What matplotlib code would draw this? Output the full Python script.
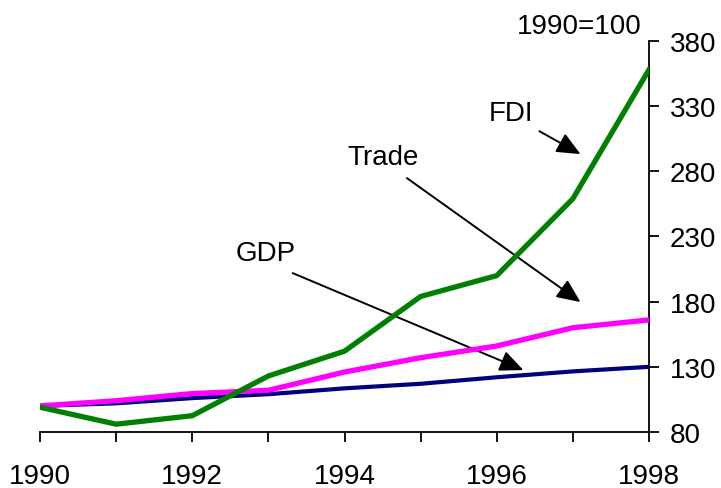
import matplotlib
matplotlib.use("Agg")
import matplotlib.pyplot as plt

# index values, 1990 = 100
years = [1990, 1991, 1992, 1993, 1994, 1995, 1996, 1997, 1998]
gdp = [100, 102, 106, 109, 113.5, 117, 122, 126.5, 130]
trade = [100, 104, 109.5, 112, 126, 137, 146, 160, 166]
fdi = [99, 86, 92.5, 123, 142, 184, 200, 259, 358]

x_ticks = years
x_labels = [str(y) if y % 2 == 0 else "" for y in years]
y_ticks = [80, 130, 180, 230, 280, 330, 380]

plt.rcParams["font.family"] = "Liberation Sans"
FS = 20

fig = plt.figure(figsize=(7.21, 4.89), dpi=100)
ax = fig.add_axes([40 / 721, 1 - 433 / 489, 609 / 721, 391 / 489])

ax.plot(years, gdp, color="#000080", lw=3.0, solid_joinstyle="miter", zorder=3)
ax.plot(years, trade, color="#ff00ff", lw=3.8, solid_joinstyle="miter", zorder=4)
ax.plot(years, fdi, color="#008000", lw=3.8, solid_joinstyle="miter", zorder=5)

ax.set_xlim(1990, 1998)
ax.set_ylim(80, 380)
ax.set_xticks(x_ticks)
ax.set_xticklabels(x_labels)
ax.set_yticks(y_ticks)

ax.yaxis.tick_right()
ax.spines["left"].set_visible(False)
ax.spines["top"].set_visible(False)
ax.spines["right"].set_linewidth(1.3)
ax.spines["bottom"].set_linewidth(1.3)
ax.tick_params(axis="both", direction="out", length=7, width=1.3,
               labelsize=FS, colors="black")
ax.tick_params(axis="x", pad=15)
ax.tick_params(axis="y", pad=8)

# labels with arrows pointing at each series
arrow = dict(arrowstyle="-|>,head_length=0.45,head_width=0.2", color="black",
             lw=1.4, mutation_scale=32, shrinkA=0, shrinkB=0)
ax.annotate("", xy=(1997.10, 293.2), xytext=(1996.56, 310.8), arrowprops=arrow)
ax.annotate("", xy=(1997.10, 179.7), xytext=(1994.82, 274.8), arrowprops=arrow)
ax.annotate("", xy=(1996.35, 127.5), xytext=(1993.32, 201.9), arrowprops=arrow)

ax.text(1996.19, 324.6, "FDI", fontsize=FS, ha="center", va="center")
ax.text(1994.51, 290.9, "Trade", fontsize=FS, ha="center", va="center")
ax.text(1992.96, 217.3, "GDP", fontsize=FS, ha="center", va="center")
ax.text(1997.08, 391.3, "1990=100", fontsize=FS, ha="center", va="center",
        clip_on=False)

fig.savefig("out.png", dpi=100)
